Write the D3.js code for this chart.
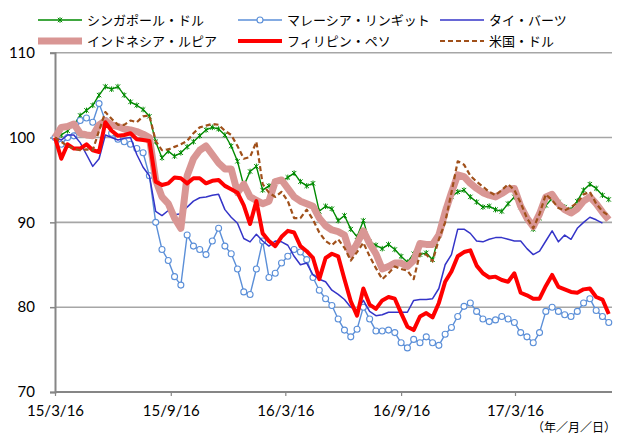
<!DOCTYPE html>
<html><head><meta charset="utf-8">
<script src="https://cdn.jsdelivr.net/npm/d3@7"></script>
<style>body{margin:0;background:#fff}</style>
</head><body><svg id="c" width="619" height="435"></svg>
<script>
// ---- data (index, 2015/3/16 = 100), one value every 10 days ----
const startDate = new Date(2015, 2, 16);
const stepDays = 10;
const sgd = [100,100.3,100.8,101.5,102.6,103.2,103.8,105,106,105.7,106,105,104.2,103.8,103.3,102.5,99.5,97.6,98.4,97.8,98.2,98.9,99.5,100.2,100.9,101.2,101,100.3,99,97.2,94.3,96,96.6,93.8,94.3,94.8,94.8,95.3,95.8,94.8,94.3,94.6,91.3,91.9,91.6,90.2,90.8,89.2,88.3,90.2,87.7,87.3,86.9,87.4,86.8,86,85.3,86.3,86.2,86.4,85.6,88.5,91.5,93,93.6,93.8,93,92.4,91.8,91.9,91.5,91.3,92.2,93,91.8,90.5,89.2,90.5,92,92.8,92.4,91.8,91.5,92.5,93.8,94.5,94,93.2,92.7];
const myr = [100,99.2,100,100.2,102,102.3,101.8,104,102,100.5,99.8,99.5,99.2,98.7,98.2,95.5,90,86.8,85.5,83.6,82.6,88.5,87.2,86.8,86.2,87.8,89.3,87.2,86.3,84.5,81.8,81.5,84.5,87.8,83.5,84,85.2,86,86.8,86.5,85.6,83.5,82,81,80.2,78.6,77.3,76.5,77.4,80,78.6,77.2,77.2,77.3,77,75.8,75.2,76.2,75.8,76.5,75.8,75.5,76.8,77.6,78.9,80.1,80.5,79.5,78.6,78.3,78.5,78.9,78.6,78.2,77,76.5,75.8,77,79.5,80,79.5,79.1,78.9,79.5,80.5,81,79.6,78.9,78.2];
const thb = [100,99.7,100.3,100.3,99.4,98,96.6,97.5,100.3,100,99.7,99.9,100,98,96.5,95.5,91.3,90.8,91.4,90.9,91,91.8,92.5,92.9,93,93.2,93.3,91.5,90.6,89.9,88.1,87.7,88.6,87.8,87.2,87.8,87.7,87.3,86,85,85.2,83.8,83.3,83,82,81.5,80.9,80,79.6,80.8,79.5,79,79.1,79.4,79.4,79.4,79.4,80.8,80.9,80.9,81,82.2,85,86.2,89.2,89.2,88.7,87.8,87.7,88,88.2,88.2,88,87.8,87.8,86.9,86.2,86.6,87.8,89,87.7,88.5,88,89.3,90,90.6,90.3,89.9,null];
const idr = [100,101.2,101.3,101.6,100.5,100.3,100.2,101.5,102,101.5,101.3,101,100.9,100.7,100.4,100,95,93,92.2,90.5,89.3,95.5,97.5,98.5,99,98,97,96.3,96.3,93.5,94.5,93,92.6,92.2,92.5,94.8,95,94,93,92.5,92.2,91.9,90.5,89.6,89.1,88.9,88.5,86.2,87.5,89,87.5,86.3,84.5,84.8,85.2,85.2,84.8,85.5,87.5,87.4,87.4,88.5,91.2,93.5,95.6,95.4,94.6,94,93.5,93.2,93,93.4,93.9,94,91.9,90.5,89.5,91,93,93.3,92.2,91.5,91.1,91.6,92.5,93,92.2,91.2,90.3];
const php = [100,97.5,99.2,98.7,98.7,99.2,98.5,98.3,101.8,100.8,100.2,100.3,100.5,99.8,99.7,99.6,94.8,94.4,94.6,95.3,95.2,94.6,95.2,95.2,94.6,94.9,95,94.3,93.9,93.5,92,89.8,92.5,88.7,87.8,87.2,88.3,89,88.8,87.2,86.6,85.8,83.3,85.8,86.3,86,83.3,80.7,79,82.2,80.3,79.8,80.8,81.2,81,79.3,77.7,77.3,78.9,79.3,78.8,80.5,83,84.2,86,86.5,86.7,84.9,84,83.5,83.6,83.2,83,84,81.7,81.4,81,81,82.5,83.8,82.4,82.1,81.8,81.7,82.1,82.2,81.2,80.9,79.2];
const usd = [100,99.5,99,98.7,98.5,98.6,98.5,100.8,103,102.2,101.5,101.5,102,101.8,102.5,102.6,99.6,98.5,98.6,98.9,99.2,99.6,100.5,101.2,101.4,101.6,101.5,100.8,100.3,99,97.5,97.7,99.5,94.5,93.5,93,93.6,92.5,90.5,90.5,91.5,90.3,88.8,87.8,87.3,88,87,85.5,86.5,87.6,86,84.6,83.3,84,84.8,84.5,84.3,83.3,86.3,86.2,85.4,88,90,93.5,97.2,96.8,95.5,94.8,94.2,93.6,93.2,93.8,94.5,93.8,92.3,90.5,89.3,91,93.3,92.6,91.7,91.4,91.8,92.3,93.3,93.6,92.2,91.3,90.8];
const seriesNames = ["シンガポール・ドル","マレーシア・リンギット","タイ・バーツ","インドネシア・ルピア","フィリピン・ペソ","米国・ドル"];
const yTicks = [70, 80, 90, 100, 110];
const xTickDates = ["2015-03-16","2015-09-16","2016-03-16","2016-09-16","2017-03-16"];
const xUnitLabel = "（年／月／日）";

// ---- chart ----
const svg = d3.select("#c");
const dates = sgd.map((_, i) => d3.timeDay.offset(startDate, i * stepDays));
const parse = d3.timeParse("%Y-%m-%d");
const x = d3.scaleTime().domain([startDate, new Date(2017, 2, 16)]).range([55, 515]);
const y = d3.scaleLinear().domain([70, 110]).range([392, 52.7]);
const L = 55, R = 612;
const numFont = "Lato, 'Liberation Sans', sans-serif";
const jpFont = "'Noto Sans CJK JP', sans-serif";

// gridlines
svg.append("g").selectAll("line").data(yTicks.filter(t => t > 70)).join("line")
  .attr("x1", L).attr("x2", R).attr("y1", d => y(d)).attr("y2", d => y(d))
  .attr("stroke", "#a6a6a6").attr("stroke-width", 1.6);

// y axis
const yAxis = svg.append("g").attr("transform", `translate(${L},0)`)
  .call(d3.axisLeft(y).tickValues(yTicks).tickSize(5).tickPadding(15).tickFormat(d3.format("d")));
yAxis.select(".domain").attr("stroke", "#868686").attr("stroke-width", 2);
yAxis.selectAll(".tick line").attr("stroke", "#868686").attr("stroke-width", 1.5);
yAxis.selectAll("text").attr("font-family", numFont).attr("font-size", 15).attr("fill", "#000");

// x axis
const xAxis = svg.append("g").attr("transform", `translate(0,${y(70)})`)
  .call(d3.axisBottom(x).tickValues(xTickDates.map(parse)).tickSize(4).tickPadding(9)
    .tickFormat(d3.timeFormat("%y/%-m/%-d")));
xAxis.select(".domain").attr("d", `M${L},0H${R}`).attr("stroke", "#868686").attr("stroke-width", 2);
xAxis.selectAll(".tick line").attr("stroke", "#868686").attr("stroke-width", 1.2);
xAxis.selectAll("text").attr("font-family", numFont).attr("font-size", 15).attr("fill", "#000");
svg.append("text").attr("x", 616).attr("y", 432).attr("text-anchor", "end")
  .attr("font-family", jpFont).attr("font-size", 12).text(xUnitLabel);

const styles = [
  {data: sgd, color: "#008a00", width: 1.4, marker: "star"},
  {data: myr, color: "#5b8fd8", width: 1.4, marker: "circle"},
  {data: thb, color: "#3434c8", width: 1.5},
  {data: idr, color: "#d99694", width: 7},
  {data: php, color: "#ff0000", width: 4},
  {data: usd, color: "#a0501a", width: 2.2, dash: "5,3"}
];
const line = d3.line().defined(d => d.v != null).x(d => x(d.date)).y(d => y(d.v));
const starPath = "M-2.2,-2.2L2.2,2.2M-2.2,2.2L2.2,-2.2M0,-2.8L0,2.8";

styles.forEach(s => {
  const pts = s.data.map((v, i) => ({date: dates[i], v}));
  const g = svg.append("g");
  g.append("path").datum(pts).attr("d", line).attr("fill", "none")
    .attr("stroke", s.color).attr("stroke-width", s.width)
    .attr("stroke-linejoin", "round").attr("stroke-dasharray", s.dash || null);
  const mp = pts.filter(d => d.v != null);
  if (s.marker === "circle") {
    g.selectAll("circle").data(mp).join("circle")
      .attr("cx", d => x(d.date)).attr("cy", d => y(d.v)).attr("r", 3)
      .attr("fill", "#fff").attr("stroke", s.color).attr("stroke-width", 1.1);
  } else if (s.marker === "star") {
    g.selectAll("path.m").data(mp).join("path").attr("class", "m")
      .attr("transform", d => `translate(${x(d.date)},${y(d.v)})`)
      .attr("d", starPath).attr("stroke", s.color).attr("stroke-width", 1);
  }
});

// legend
const legCols = [38, 238, 440], legRows = [20, 41];
styles.forEach((s, i) => {
  const lx = legCols[i % 3], ly = legRows[Math.floor(i / 3)];
  const g = svg.append("g");
  g.append("line").attr("x1", lx).attr("x2", lx + 44).attr("y1", ly).attr("y2", ly)
    .attr("stroke", s.color).attr("stroke-width", s.width).attr("stroke-dasharray", s.dash || null);
  if (s.marker === "circle") g.append("circle").attr("cx", lx + 22).attr("cy", ly).attr("r", 3)
    .attr("fill", "#fff").attr("stroke", s.color).attr("stroke-width", 1.1);
  if (s.marker === "star") g.append("path").attr("transform", `translate(${lx + 22},${ly})`)
    .attr("d", starPath).attr("stroke", s.color).attr("stroke-width", 1);
  g.append("text").attr("x", lx + 49).attr("y", ly).attr("dy", "0.35em")
    .attr("font-family", jpFont).attr("font-size", 13).attr("fill", "#000").text(seriesNames[i]);
});
</script></body></html>
